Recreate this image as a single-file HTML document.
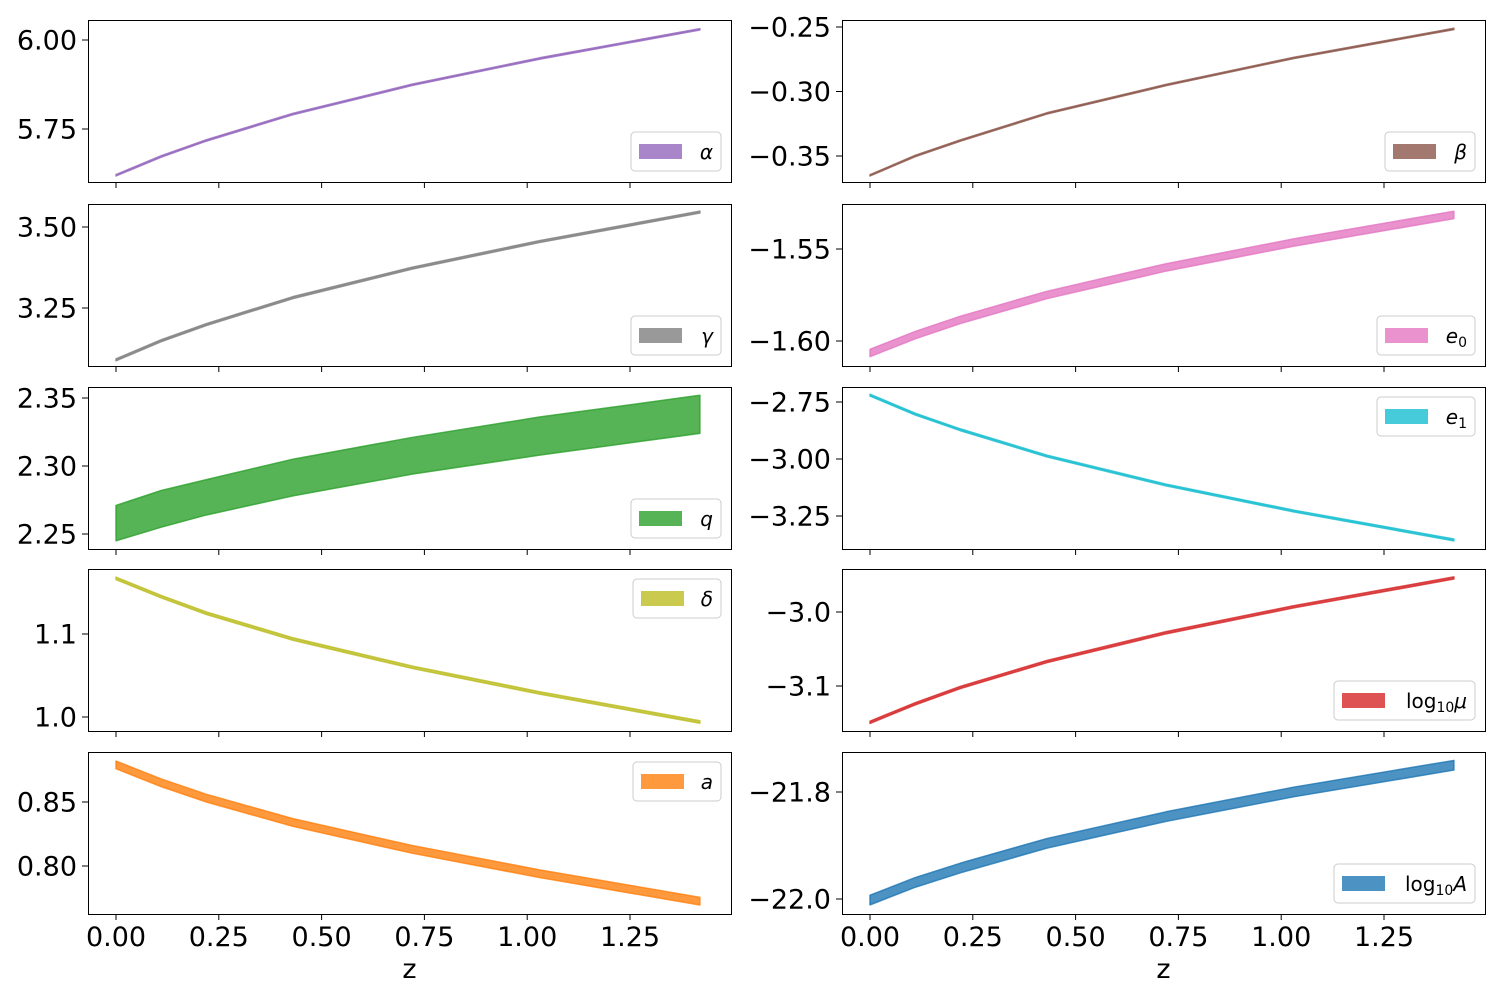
<!DOCTYPE html>
<html><head><meta charset="utf-8"><style>
body{margin:0;background:#fff;}
svg text{font-family:"DejaVu Sans","Liberation Sans",sans-serif;}
</style></head><body>
<svg id="chart" width="1500" height="1000" xmlns="http://www.w3.org/2000/svg"></svg>
<script>
const zVals = [0, 0.11, 0.22, 0.43, 0.72, 1.03, 1.42];
const xTicks = [0, 0.25, 0.5, 0.75, 1.0, 1.25];
const xTickLabels = ["0.00","0.25","0.50","0.75","1.00","1.25"];
const alphaLo = [5.618,5.671,5.716,5.790,5.872,5.946,6.028];
const alphaHi = [5.622,5.675,5.720,5.794,5.876,5.950,6.032];
const betaLo = [-0.3655,-0.3505,-0.3385,-0.3175,-0.2955,-0.2745,-0.2520];
const betaHi = [-0.3645,-0.3495,-0.3375,-0.3165,-0.2945,-0.2735,-0.2510];
const gammaLo = [3.087,3.146,3.196,3.279,3.370,3.452,3.543];
const gammaHi = [3.093,3.152,3.202,3.285,3.376,3.458,3.549];
const e0Lo = [-1.6085,-1.5988,-1.5905,-1.5770,-1.5620,-1.5485,-1.5335];
const e0Hi = [-1.6045,-1.5948,-1.5865,-1.5730,-1.5580,-1.5445,-1.5295];
const qLo = [2.245,2.255,2.264,2.278,2.294,2.308,2.324];
const qHi = [2.271,2.282,2.290,2.305,2.321,2.336,2.352];
const e1Lo = [-2.724,-2.807,-2.876,-2.991,-3.118,-3.232,-3.359];
const e1Hi = [-2.716,-2.799,-2.868,-2.983,-3.110,-3.224,-3.351];
const deltaLo = [1.1655,1.1435,1.1235,1.0925,1.0585,1.0275,0.9925];
const deltaHi = [1.1685,1.1465,1.1265,1.0955,1.0615,1.0305,0.9955];
const muLo = [-3.1505,-3.1255,-3.1035,-3.0685,-3.0295,-2.9945,-2.9555];
const muHi = [-3.1475,-3.1225,-3.1005,-3.0655,-3.0265,-2.9915,-2.9525];
const aLo = [0.876,0.862,0.850,0.831,0.810,0.791,0.7695];
const aHi = [0.882,0.868,0.856,0.837,0.816,0.797,0.7755];
const ALo = [-22.011,-21.978,-21.951,-21.905,-21.855,-21.809,-21.759];
const AHi = [-21.993,-21.960,-21.933,-21.887,-21.837,-21.791,-21.741];
const alphaTicks=[5.75,6.00], betaTicks=[-0.35,-0.30,-0.25], gammaTicks=[3.25,3.50], e0Ticks=[-1.60,-1.55];
const qTicks=[2.25,2.30,2.35], e1Ticks=[-3.25,-3.00,-2.75], deltaTicks=[1.0,1.1], muTicks=[-3.1,-3.0];
const aTicks=[0.80,0.85], ATicks=[-22.0,-21.8];

const panels = [
 {name:"alpha",col:0,row:0,lo:alphaLo,hi:alphaHi,ticks:alphaTicks,dec:2,ref:[5.75,129,6.0,40],color:"#9467bd",leg:"b",lab:[["α",""]],lw:90},
 {name:"beta",col:1,row:0,lo:betaLo,hi:betaHi,ticks:betaTicks,dec:2,ref:[-0.35,156,-0.25,27],color:"#8c564b",leg:"b",lab:[["β",""]],lw:90},
 {name:"gamma",col:0,row:1,lo:gammaLo,hi:gammaHi,ticks:gammaTicks,dec:2,ref:[3.25,308,3.5,227],color:"#7f7f7f",leg:"b",lab:[["γ",""]],lw:90},
 {name:"e0",col:1,row:1,lo:e0Lo,hi:e0Hi,ticks:e0Ticks,dec:2,ref:[-1.6,341,-1.55,249],color:"#e377c2",leg:"b",lab:[["e","0"]],lw:98},
 {name:"q",col:0,row:2,lo:qLo,hi:qHi,ticks:qTicks,dec:2,ref:[2.25,534,2.35,398],color:"#2ca02c",leg:"b",lab:[["q",""]],lw:90},
 {name:"e1",col:1,row:2,lo:e1Lo,hi:e1Hi,ticks:e1Ticks,dec:2,ref:[-3.25,516,-2.75,402],color:"#17becf",leg:"t",lab:[["e","1"]],lw:98},
 {name:"delta",col:0,row:3,lo:deltaLo,hi:deltaHi,ticks:deltaTicks,dec:1,ref:[1.0,717,1.1,634],color:"#bcbd22",leg:"t",lab:[["δ",""]],lw:88},
 {name:"log10mu",col:1,row:3,lo:muLo,hi:muHi,ticks:muTicks,dec:1,ref:[-3.1,686,-3.0,612],color:"#d62728",leg:"b",lab:[["log","10","μ"]],lw:141},
 {name:"a",col:0,row:4,lo:aLo,hi:aHi,ticks:aTicks,dec:2,ref:[0.80,866,0.85,802],color:"#ff7f0e",leg:"t",lab:[["a",""]],lw:88},
 {name:"log10A",col:1,row:4,lo:ALo,hi:AHi,ticks:ATicks,dec:1,ref:[-22.0,899,-21.8,792],color:"#1f77b4",leg:"b",lab:[["log","10","A"]],lw:141}
];
const colX=[88,842], colW=643, rowY=[20,204,387,569,752], rowH=162;
const NS="http://www.w3.org/2000/svg";
const svg=document.getElementById('chart');
function mk(t,a,p){const e=document.createElementNS(NS,t);for(const k in a)e.setAttribute(k,a[k]);(p||svg).appendChild(e);return e;}
function fmt(v,d){const s=Math.abs(v).toFixed(d);return (v<0?"\u2212":"")+s;}
panels.forEach(p=>{
 const x0=colX[p.col], y0=rowY[p.row];
 const z0=p.col===0?116:870;
 const xs=z=>z0+z*411.2;
 const [v1,p1,v2,p2]=p.ref;
 const ys=v=>p1+(v-v1)*(p2-p1)/(v2-v1);
 const g=mk('g',{});
 
 
 let pts=zVals.map((z,i)=>xs(z)+","+ys(p.hi[i]));
 pts=pts.concat(zVals.map((z,i)=>xs(z)+","+ys(p.lo[i])).reverse());
 const band=mk('polygon',{points:pts.join(" "),fill:p.color,'fill-opacity':0.8,stroke:p.color,'stroke-opacity':0.8,'stroke-width':1.5,'stroke-linejoin':'round'},g);
 
 
 const fr=mk('rect',{x:x0+0.5,y:y0+0.5,width:colW,height:rowH,fill:'none',stroke:'#000','stroke-width':1},g);
 
 
 p.ticks.forEach(t=>{
  const y=ys(t);
  mk('line',{x1:x0-6,x2:x0,y1:y,y2:y,stroke:'#000'},g);
  const tx=mk('text',{x:x0-11,y:y+9.5,'text-anchor':'end','font-size':27,fill:'#000'},g);
  tx.textContent=fmt(t,p.dec);
  
  
 });
 xTicks.forEach((t,i)=>{
  const x=xs(t);
  mk('line',{x1:x,x2:x,y1:y0+rowH,y2:y0+rowH+6,stroke:'#000'},g);
  if(p.row===4){
   const tx=mk('text',{x:x,y:y0+rowH+32,'text-anchor':'middle','font-size':27,fill:'#000'},g);
   tx.textContent=xTickLabels[i];
   
   
  }
 });
 if(p.row===4){
  const xl=mk('text',{x:x0+colW/2,y:y0+rowH+64,'text-anchor':'middle','font-size':27,fill:'#000'},g);
  xl.textContent='z';
  
  
 }
 const lx=x0+colW-10-p.lw, ly=p.leg==="b"?y0+rowH-11-39:y0+10;
 const lg=mk('g',{},g);
 
 
 mk('rect',{x:lx,y:ly,width:p.lw,height:39,rx:4,fill:'#fff','fill-opacity':0.8,stroke:'#ccc'},lg);
 mk('rect',{x:lx+8,y:ly+12,width:43,height:15,fill:p.color,'fill-opacity':0.8},lg);
 const lt=mk('text',{x:lx+p.lw-8,y:ly+27,'text-anchor':'end','font-size':20,fill:'#000'},lg);
 const L=p.lab[0];
 if(L.length===3){
  const a=mk('tspan',{},lt);a.textContent=L[0];
  const b=mk('tspan',{'font-size':14,dy:4},lt);b.textContent=L[1];
  const c=mk('tspan',{'font-style':'italic',dy:-4},lt);c.textContent=L[2];
 } else {
  const a=mk('tspan',{'font-style':'italic'},lt);a.textContent=L[0];
  if(L[1]){const b=mk('tspan',{'font-size':14,dy:4},lt);b.textContent=L[1];}
 }
});
</script>
</body></html>
